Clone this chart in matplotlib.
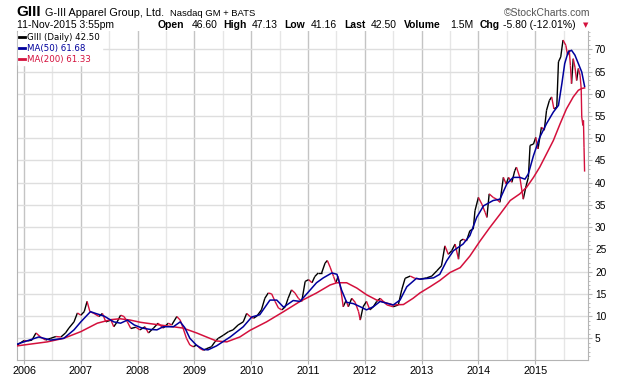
import numpy as np
import matplotlib
matplotlib.use("Agg")
import matplotlib.pyplot as plt
from matplotlib.collections import LineCollection
from matplotlib.lines import Line2D
from matplotlib.ticker import MultipleLocator, FixedLocator

plt.rcParams["font.family"] = ["Liberation Sans", "DejaVu Sans"]

# GIII daily close (decimal year, price)
price_t = [2005.88, 2006.00, 2006.06, 2006.14, 2006.21, 2006.29, 2006.38, 2006.47, 2006.56, 2006.65,
           2006.73, 2006.79, 2006.88, 2006.94, 2007.00, 2007.06, 2007.11, 2007.16, 2007.23, 2007.32,
           2007.38, 2007.44, 2007.53, 2007.58, 2007.64, 2007.70, 2007.76, 2007.82, 2007.88, 2007.97,
           2008.04, 2008.13, 2008.19, 2008.28, 2008.36, 2008.45, 2008.54, 2008.60, 2008.69, 2008.75,
           2008.80, 2008.86, 2008.92, 2008.98, 2009.04, 2009.10, 2009.16, 2009.22, 2009.30, 2009.36,
           2009.42, 2009.51, 2009.60, 2009.68, 2009.77, 2009.86, 2009.92, 2009.98, 2010.04, 2010.10,
           2010.18, 2010.24, 2010.30, 2010.36, 2010.42, 2010.48, 2010.54, 2010.60, 2010.65, 2010.71,
           2010.77, 2010.83, 2010.89, 2010.95, 2011.01, 2011.07, 2011.12, 2011.18, 2011.24, 2011.30,
           2011.34, 2011.39, 2011.45, 2011.49, 2011.53, 2011.58, 2011.62, 2011.67, 2011.71, 2011.77,
           2011.83, 2011.89, 2011.92, 2011.97, 2012.03, 2012.09, 2012.15, 2012.21, 2012.27, 2012.39,
           2012.50, 2012.59, 2012.65, 2012.71, 2012.80, 2012.88, 2012.97, 2013.09, 2013.18, 2013.27,
           2013.35, 2013.41, 2013.47, 2013.53, 2013.59, 2013.65, 2013.68, 2013.73, 2013.79, 2013.85,
           2013.91, 2013.94, 2014.00, 2014.06, 2014.12, 2014.15, 2014.19, 2014.26, 2014.32, 2014.38,
           2014.44, 2014.49, 2014.53, 2014.59, 2014.64, 2014.67, 2014.73, 2014.79, 2014.84, 2014.88,
           2014.91, 2014.97, 2015.01, 2015.05, 2015.11, 2015.16, 2015.20, 2015.25, 2015.29, 2015.33,
           2015.38, 2015.41, 2015.45, 2015.49, 2015.54, 2015.57, 2015.60, 2015.62, 2015.64, 2015.67,
           2015.70, 2015.73, 2015.76, 2015.79, 2015.81, 2015.82, 2015.84, 2015.85, 2015.86, 2015.87]
price_v = [3.5, 4.5, 4.4, 4.6, 6.2, 5.3, 4.6, 5.0, 5.4, 5.3,
           6.2, 7.3, 8.7, 10.7, 10.2, 11.0, 13.3, 11.0, 10.6, 9.9,
           10.6, 8.7, 9.1, 7.6, 8.7, 10.2, 9.9, 8.7, 7.2, 7.5,
           6.9, 7.6, 6.2, 7.3, 8.4, 7.3, 8.4, 8.0, 9.9, 9.1,
           7.3, 5.0, 3.5, 3.1, 3.5, 2.7, 2.3, 2.7, 3.1, 4.2,
           5.0, 5.7, 6.5, 6.9, 8.0, 8.7, 10.6, 9.9, 9.5, 10.0,
           11.4, 14.0, 15.2, 15.0, 13.3, 11.8, 11.4, 12.1, 14.0, 15.9,
           15.2, 14.0, 13.3, 17.8, 18.2, 17.5, 18.9, 19.7, 19.7, 21.9,
           22.5, 21.0, 18.9, 17.5, 18.9, 15.9, 12.1, 13.5, 12.1, 14.0,
           13.1, 11.0, 9.1, 12.1, 13.3, 11.4, 12.1, 13.3, 14.0, 12.5,
           12.1, 12.5, 15.9, 18.5, 19.0, 18.5, 18.3, 18.6, 19.0, 20.2,
           21.3, 25.8, 23.9, 24.7, 26.2, 22.8, 26.9, 27.3, 26.9, 29.2,
           29.6, 33.7, 36.7, 35.2, 33.3, 32.2, 37.5, 36.7, 36.3, 35.6,
           41.2, 39.7, 41.2, 40.1, 42.7, 43.5, 41.2, 36.3, 39.3, 41.2,
           48.4, 48.7, 50.2, 47.6, 52.5, 51.8, 56.3, 58.5, 59.3, 56.6,
           57.0, 67.2, 68.3, 72.1, 70.9, 68.7, 69.8, 66.4, 62.3, 67.9,
           66.0, 63.0, 65.7, 64.2, 61.2, 54.8, 52.9, 54.0, 48.0, 42.5]

ma50_t = [2005.88, 2006.26, 2006.47, 2006.70, 2006.88, 2007.00, 2007.17, 2007.26, 2007.41, 2007.58,
          2007.70, 2007.82, 2007.94, 2008.08, 2008.22, 2008.34, 2008.45, 2008.63, 2008.75, 2008.83,
          2008.92, 2009.04, 2009.16, 2009.24, 2009.39, 2009.63, 2009.86, 2010.01, 2010.15, 2010.33,
          2010.45, 2010.57, 2010.74, 2010.86, 2011.04, 2011.15, 2011.27, 2011.42, 2011.51, 2011.59,
          2011.68, 2011.80, 2011.92, 2012.03, 2012.15, 2012.27, 2012.50, 2012.62, 2012.74, 2012.91,
          2012.97, 2013.21, 2013.32, 2013.44, 2013.56, 2013.73, 2013.85, 2013.97, 2014.09, 2014.26,
          2014.38, 2014.50, 2014.61, 2014.73, 2014.82, 2014.88, 2014.97, 2015.08, 2015.20, 2015.32,
          2015.41, 2015.47, 2015.52, 2015.58, 2015.64, 2015.70, 2015.76, 2015.82, 2015.87]
ma50_v = [3.7, 5.3, 4.6, 5.0, 6.9, 8.7, 11.0, 10.6, 10.0, 8.7,
          8.4, 9.1, 8.0, 7.3, 7.0, 6.9, 7.6, 7.6, 8.7, 7.4,
          5.0, 3.4, 2.5, 2.4, 3.3, 5.3, 7.6, 9.8, 10.3, 13.6,
          13.6, 12.0, 13.5, 13.3, 15.9, 17.5, 18.6, 19.7, 19.4, 15.9,
          13.1, 12.8, 12.1, 11.4, 12.1, 13.3, 12.5, 13.6, 16.6, 18.5,
          18.3, 18.6, 19.4, 22.4, 24.7, 26.2, 28.1, 32.2, 34.8, 36.0,
          36.3, 39.7, 41.2, 41.2, 40.8, 42.0, 46.1, 50.2, 53.3, 55.9,
          57.4, 62.3, 66.8, 69.4, 69.8, 68.7, 66.8, 64.9, 61.68]

ma200_t = [2005.88, 2006.41, 2006.70, 2007.00, 2007.29, 2007.53, 2007.69, 2007.87, 2008.05, 2008.16,
           2008.45, 2008.80, 2009.04, 2009.27, 2009.39, 2009.57, 2009.80, 2009.98, 2010.27, 2010.57,
           2010.86, 2011.15, 2011.39, 2011.51, 2011.68, 2011.86, 2012.03, 2012.21, 2012.50, 2012.68,
           2012.85, 2012.97, 2013.15, 2013.32, 2013.50, 2013.68, 2013.85, 2014.03, 2014.20, 2014.38,
           2014.56, 2014.73, 2014.85, 2014.97, 2015.08, 2015.20, 2015.32, 2015.44, 2015.55, 2015.67,
           2015.76, 2015.82, 2015.87]
ma200_v = [3.3, 4.2, 5.0, 6.5, 8.4, 9.2, 9.4, 9.1, 8.6, 8.4,
           7.9, 7.3, 6.2, 5.0, 4.4, 4.2, 5.3, 6.8, 8.7, 11.0,
           13.3, 15.2, 17.0, 17.5, 17.5, 16.3, 14.8, 13.6, 12.5, 12.6,
           14.0, 15.2, 16.6, 18.0, 19.8, 20.9, 23.5, 26.9, 29.9, 32.9,
           36.0, 37.5, 39.0, 41.2, 43.5, 46.5, 49.5, 53.3, 56.6, 59.3,
           60.8, 61.2, 61.33]

years = list(range(2006, 2016))
y_ticks = list(range(5, 75, 5))

RED = "#d4103c"
BLUE = "#00009c"

fig = plt.figure(figsize=(6.2, 3.76), dpi=100)
W, H = 620.0, 376.0
ax = fig.add_axes([16.7 / W, 1 - 360 / H, (588 - 16.7) / W, (360 - 30.7) / H])

# price line: black on up moves, red on down moves (red drawn on top)
pt = np.array(price_t)
pv = np.array(price_v)
segs = np.stack([np.column_stack([pt[:-1], pv[:-1]]), np.column_stack([pt[1:], pv[1:]])], axis=1)
up = pv[1:] >= pv[:-1]
ax.add_collection(LineCollection(segs[up], colors="black", linewidths=1.0, zorder=3))
ax.add_collection(LineCollection(segs[~up], colors=RED, linewidths=1.0, zorder=3.5))

ax.plot(ma200_t, ma200_v, color=RED, lw=1.1, zorder=4)
ax.plot(ma50_t, ma50_v, color=BLUE, lw=1.1, zorder=5)

ax.set_xlim(2005.871, 2015.93)
ax.set_ylim(0.12, 74.2)

ax.xaxis.set_major_locator(FixedLocator(years))
ax.set_xticklabels([str(y) for y in years])
ax.xaxis.set_minor_locator(FixedLocator([y + 0.5 for y in range(2005, 2016)]))
ax.yaxis.set_major_locator(FixedLocator(y_ticks))
ax.yaxis.set_minor_locator(MultipleLocator(1))
ax.yaxis.tick_right()

ax.grid(which="major", axis="x", color="#c4c4c4", lw=1.0)
ax.grid(which="minor", axis="x", color="#e6e6e6", lw=1.0)
ax.grid(which="major", axis="y", color="#dedede", lw=1.0)
ax.set_axisbelow(True)

for s in ["left", "bottom", "right"]:
    ax.spines[s].set_color("#b4b4b4")
ax.spines["top"].set_visible(False)

ax.tick_params(axis="x", which="major", length=3, color="#b4b4b4", labelsize=7.8, pad=1.5)
ax.tick_params(axis="x", which="minor", length=0)
ax.tick_params(axis="y", which="major", length=3, color="#b4b4b4", labelsize=7.3, pad=2)
ax.tick_params(axis="y", which="minor", length=1.5, color="#b4b4b4")

# legend
handles = [Line2D([], [], color="black", lw=2), Line2D([], [], color=BLUE, lw=2),
           Line2D([], [], color=RED, lw=2)]
labels = ["GIII (Daily) 42.50", "MA(50) 61.68", "MA(200) 61.33"]
leg = ax.legend(handles, labels, loc="upper left", bbox_to_anchor=(0.0, 1.0), frameon=True,
                prop={"family": "DejaVu Sans", "size": 6.2}, handlelength=0.7, handletextpad=0.3,
                labelspacing=0.25, borderpad=0.15, borderaxespad=0.1, labelcolor="linecolor")
leg.get_frame().set_edgecolor("white")
leg.get_frame().set_alpha(1.0)
leg.get_frame().set_boxstyle("square", pad=0)


def ftext(x, y, s, **kw):
    return fig.text(x / W, 1 - y / H, s, va="baseline", **kw)


# header line 1
ftext(16.7, 15.5, "GIII", fontsize=11, fontweight="bold")
ftext(45, 15.5, "G-III Apparel Group, Ltd.", fontsize=7.8)
ftext(170, 15.5, "Nasdaq GM + BATS", fontsize=6.8)
ftext(590, 15.5, "\u00a9StockCharts.com", fontsize=7.5, color="#555555", ha="right")

# header line 2
ftext(16.7, 28, "11-Nov-2015 3:55pm", fontsize=7.5)
quote = [("Open", 158, True), ("46.60", 192, False), ("High", 223, True), ("47.13", 252, False),
         ("Low", 284, True), ("41.16", 311, False), ("Last", 344, True), ("42.50", 371, False),
         ("Volume", 404, True), ("1.5M", 450, False), ("Chg", 480, True),
         ("-5.80 (-12.01%)", 503, False)]
for s, x, b in quote:
    ftext(x, 28, s, fontsize=7.5, fontweight="bold" if b else "normal")
ftext(583, 27, "\u25bc", fontsize=5, color=RED, family="DejaVu Sans")

fig.savefig("out.png", dpi=100)
